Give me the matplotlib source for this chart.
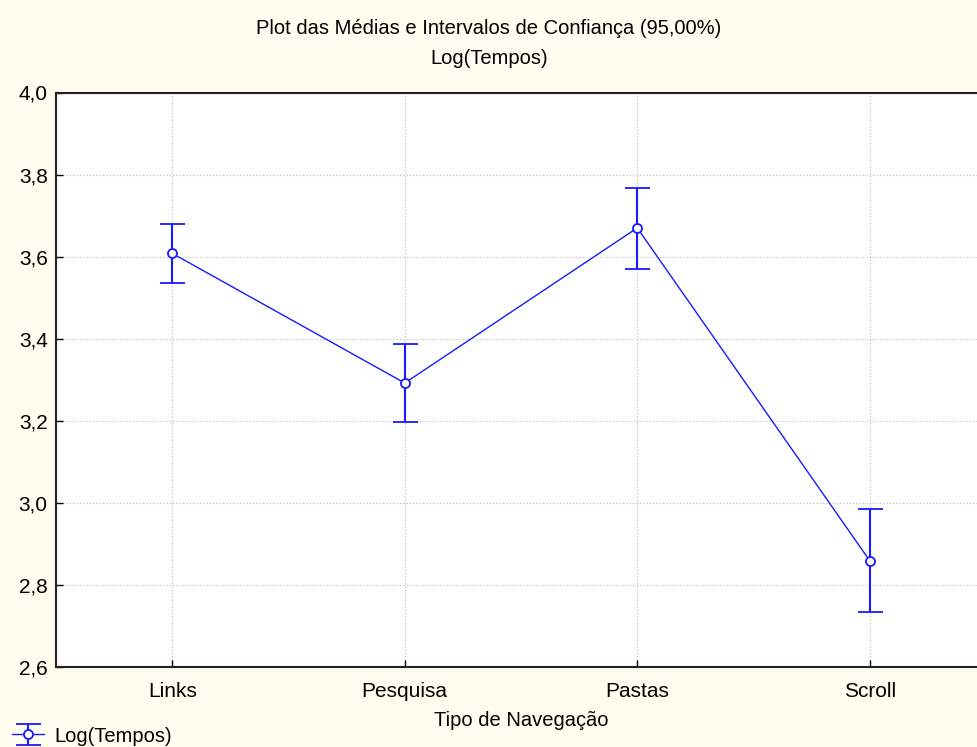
import matplotlib
matplotlib.use("Agg")
import matplotlib.pyplot as plt
from matplotlib.ticker import FixedLocator, FuncFormatter

categories = ["Links", "Pesquisa", "Pastas", "Scroll"]
means = [3.608, 3.292, 3.670, 2.859]
upper = [3.679, 3.386, 3.767, 2.985]
lower = [3.535, 3.198, 3.569, 2.734]
yticks = [2.6, 2.8, 3.0, 3.2, 3.4, 3.6, 3.8, 4.0]

plt.rcParams['font.family'] = ['Liberation Sans', 'DejaVu Sans']

W, H = 978, 747
fig = plt.figure(figsize=(W / 100, H / 100), dpi=100, facecolor="#fffcf0")
ax = fig.add_axes([56 / W, 1 - 667 / H, 930 / W, (667 - 92.5) / H])
ax.set_facecolor("#fefefe")

x = list(range(len(categories)))
yerr = [[m - l for m, l in zip(means, lower)], [u - m for m, u in zip(means, upper)]]
col = "#1a1aff"
eb = ax.errorbar(x, means, yerr=yerr, color=col, lw=1, elinewidth=1.5, capsize=12.5 * 0.72,
                 capthick=1.5, marker="o", ms=6.5, mfc="white", mec=col, mew=1.3, zorder=3,
                 label="Log(Tempos)")

ax.set_xlim(-0.5, 3.5)
ax.set_ylim(2.6, 4.0)
ax.set_xticks(x)
ax.set_xticklabels(categories, fontsize=14.5)
ax.yaxis.set_major_locator(FixedLocator(yticks))
ax.yaxis.set_major_formatter(FuncFormatter(lambda v, p: f"{v:.1f}".replace(".", ",")))
ax.tick_params(axis="both", direction="in", length=5, width=1, colors="black", labelsize=15)
ax.tick_params(axis="x", pad=11)
ax.tick_params(axis="y", pad=6)
ax.grid(True, color="#b8b8b8", lw=0.8, ls=(0, (1, 2)))
ax.set_axisbelow(True)
for s in ax.spines.values():
    s.set_linewidth(1.5)
    s.set_color("#222222")

ax.set_xlabel("Tipo de Navegação", fontsize=14.5, labelpad=7)
fig.text(0.5, 1 - 28 / H, "Plot das Médias e Intervalos de Confiança (95,00%)",
         ha="center", va="center", fontsize=14.5)
fig.text(0.5, 1 - 59 / H, "Log(Tempos)", ha="center", va="center", fontsize=14.5)

leg = fig.legend([eb], ["Log(Tempos)"], loc="lower left", bbox_to_anchor=(0.012, 0.002),
                 frameon=False, fontsize=14.5, handlelength=1.6, handletextpad=0.5,
                 borderaxespad=0.0, borderpad=0.0)

fig.savefig("out.png", dpi=100, facecolor=fig.get_facecolor())
